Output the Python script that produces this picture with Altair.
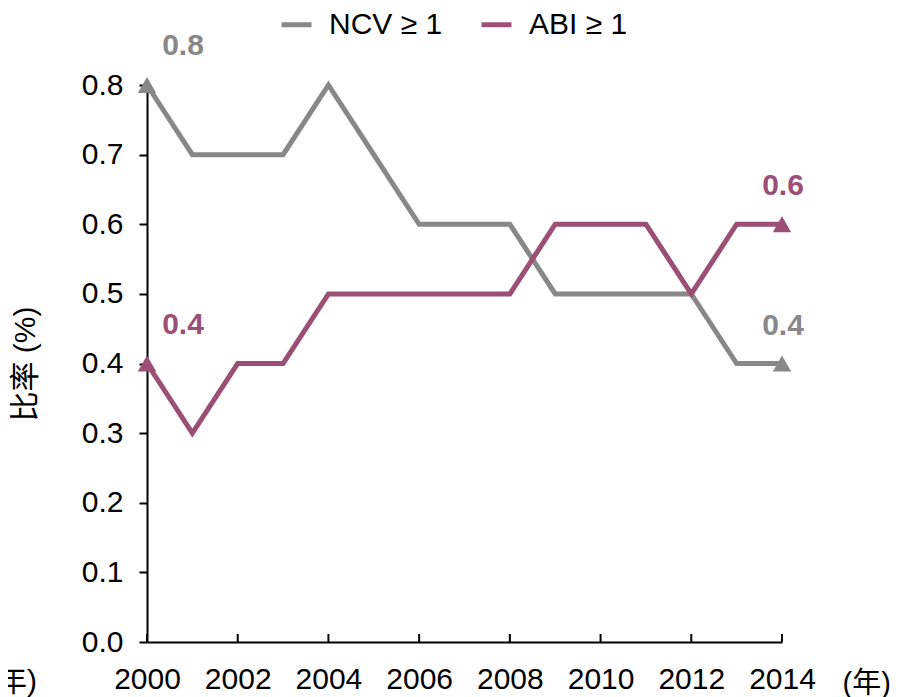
import altair as alt
import pandas as pd

years = list(range(2000, 2015))
ncv = [0.8, 0.7, 0.7, 0.7, 0.8, 0.7, 0.6, 0.6, 0.6, 0.5, 0.5, 0.5, 0.5, 0.4, 0.4]
abi = [0.4, 0.3, 0.4, 0.4, 0.5, 0.5, 0.5, 0.5, 0.5, 0.6, 0.6, 0.6, 0.5, 0.6, 0.6]
series_names = ["NCV ≥ 1", "ABI ≥ 1"]
series_colors = ["#888888", "#9b4f76"]
x_ticks = [2000, 2002, 2004, 2006, 2008, 2010, 2012, 2014]
y_ticks = [0.0, 0.1, 0.2, 0.3, 0.4, 0.5, 0.6, 0.7, 0.8]
y_title = "比率 (%)"
x_title = "(年)"

FONT = "Liberation Sans, Arial, Noto Sans CJK SC, sans-serif"
FS = 30

rows = []
for name, vals in zip(series_names, [ncv, abi]):
    for yr, v in zip(years, vals):
        rows.append({"year": yr, "value": v, "series": name,
                     "label": f"{v:.1f}"})
df = pd.DataFrame(rows)
ends = df[df["year"].isin([years[0], years[-1]])]
start = df[df["year"] == years[0]]
end = df[df["year"] == years[-1]]

xscale = alt.Scale(domain=[years[0], years[-1]], nice=False, zero=False)
yscale = alt.Scale(domain=[0, 0.8], nice=False)
cscale = alt.Scale(domain=series_names, range=series_colors)
color = alt.Color("series:N", scale=cscale,
                  legend=alt.Legend(title=None, orient="none", direction="horizontal",
                                    legendX=132, legendY=-78,
                                    symbolType="stroke", symbolStrokeWidth=5,
                                    symbolSize=900, labelFontSize=FS, labelFont=FONT,
                                    labelColor="black", labelOffset=15,
                                    columnPadding=28, symbolOffset=0))

X = alt.X("year:Q", scale=xscale,
          axis=alt.Axis(values=x_ticks, format="d", ticks=False, grid=False,
                        domainColor="black", domainWidth=2,
                        labelFontSize=FS, labelFont=FONT, labelColor="black",
                        labelPadding=22, labelFlush=False,
                        title=x_title, titleFont=FONT, titleFontSize=29,
                        titleFontWeight="normal", titleColor="black",
                        titleAlign="left", titleBaseline="middle",
                        titleX=695, titleY=41))
Y = alt.Y("value:Q", scale=yscale,
          axis=alt.Axis(values=y_ticks, format=".1f", grid=False,
                        domainColor="black", domainWidth=2,
                        tickColor="black", tickWidth=2, tickSize=8,
                        labelFontSize=FS, labelFont=FONT, labelColor="black",
                        labelPadding=16, labelFlush=False,
                        title=y_title, titleFont=FONT, titleFontSize=FS,
                        titleFontWeight="normal", titleColor="black",
                        titlePadding=41))

base = alt.Chart(df)
lines = base.mark_line(strokeWidth=5, strokeJoin="miter").encode(x=X, y=Y, color=color)
tri = alt.Chart(ends).mark_point(shape="triangle-up", filled=True, size=340, opacity=1).encode(
    x="year:Q", y="value:Q",
    color=alt.Color("series:N", scale=cscale, legend=None))
lab_start = alt.Chart(start).mark_text(fontSize=FS, fontWeight="bold", font=FONT,
                                       dx=36, dy=-39).encode(
    x="year:Q", y="value:Q", text="label:N",
    color=alt.Color("series:N", scale=cscale, legend=None))
lab_end = alt.Chart(end).mark_text(fontSize=FS, fontWeight="bold", font=FONT,
                                   dx=1, dy=-38).encode(
    x="year:Q", y="value:Q", text="label:N",
    color=alt.Color("series:N", scale=cscale, legend=None))
tick_rules = alt.Chart(pd.DataFrame({"year": x_ticks})).mark_rule(color="black", strokeWidth=2).encode(
    x="year:Q", y=alt.value(557), y2=alt.value(549))
left_unit = alt.Chart(pd.DataFrame({"t": [x_title]})).mark_text(
    fontSize=FS, font=FONT, color="black", align="right", baseline="middle").encode(
    x=alt.value(-110), y=alt.value(597), text="t:N")

chart = alt.layer(lines, tick_rules, tri, lab_start, lab_end, left_unit).properties(
    width=635, height=557, autosize="none",
    padding={"left": 139, "top": 77, "right": 109, "bottom": 58},
).configure_view(stroke=None)

chart.save("out.html", embed_options={"renderer": "svg", "actions": False})
